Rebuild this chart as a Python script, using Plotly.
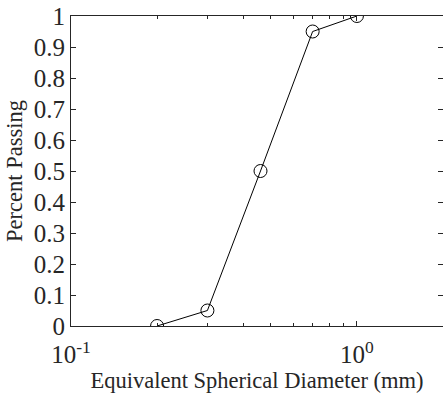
import plotly.graph_objects as go

diameter_mm = [0.2, 0.3, 0.46, 0.7, 1.0]
percent_passing = [0.0, 0.05, 0.5, 0.95, 1.0]

y_ticks = [0, 0.1, 0.2, 0.3, 0.4, 0.5, 0.6, 0.7, 0.8, 0.9, 1.0]
y_tick_text = ["0", "0.1", "0.2", "0.3", "0.4", "0.5", "0.6", "0.7", "0.8", "0.9", "1"]
x_ticks = [0.1, 1.0]
x_tick_text = ["10<sup>-1</sup>", "10<sup>0</sup>"]
x_minor = [0.2, 0.3, 0.4, 0.5, 0.6, 0.7, 0.8, 0.9, 2.0]

ink = "#262626"
font_family = "Liberation Serif"

fig = go.Figure()
fig.add_trace(go.Scatter(
    x=diameter_mm, y=percent_passing, mode="lines+markers",
    line=dict(color="black", width=1),
    marker=dict(symbol="circle-open", size=13, color="black", line=dict(width=1)),
    showlegend=False,
))

fig.update_layout(
    width=443, height=396,
    margin=dict(l=71, r=0, t=16, b=70),
    paper_bgcolor="white", plot_bgcolor="white",
    font=dict(family=font_family, size=25, color=ink),
)
fig.update_xaxes(
    type="log", range=[-1, 0.30103], automargin=False,
    tickmode="array", tickvals=x_ticks, ticktext=x_tick_text,
    ticks="inside", ticklen=5, tickcolor=ink, tickwidth=1,
    showline=True, linecolor=ink, linewidth=1, mirror="ticks",
    showgrid=False, zeroline=False, ticklabelstandoff=6,
    minor=dict(tickvals=x_minor, ticks="inside", ticklen=3, tickcolor=ink, showgrid=False),
    title=dict(text="Equivalent Spherical Diameter (mm)", font=dict(size=22.5), standoff=4),
    tickfont=dict(size=25),
)
fig.update_yaxes(
    range=[0, 1], automargin=False,
    tickmode="array", tickvals=y_ticks, ticktext=y_tick_text,
    ticks="inside", ticklen=5, tickcolor=ink, tickwidth=1,
    showline=True, linecolor=ink, linewidth=1, mirror="ticks",
    showgrid=False, zeroline=False,
    title=dict(text="Percent Passing", font=dict(size=22.5), standoff=4),
    tickfont=dict(size=25),
)

fig.write_html(
    "out.html",
    config={"displayModeBar": False},
    post_script="document.body.style.margin='0';",
)
